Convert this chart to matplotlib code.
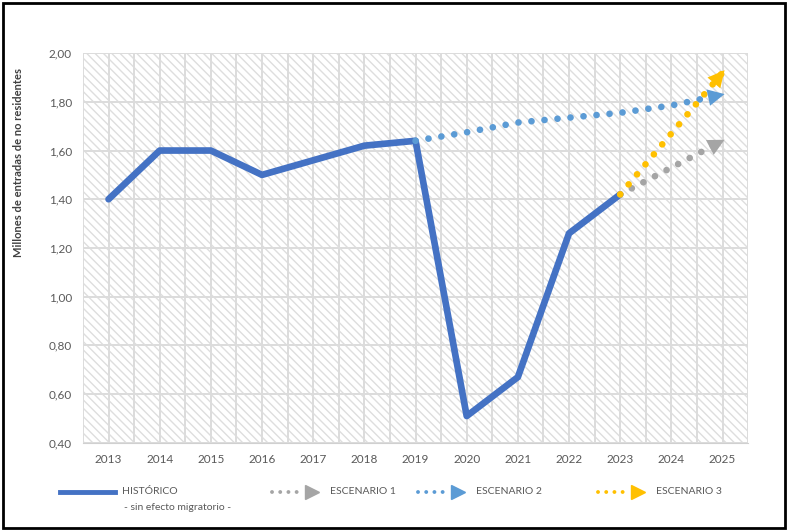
import numpy as np
import matplotlib
matplotlib.use("Agg")
import matplotlib.pyplot as plt
from matplotlib.patches import Rectangle
from matplotlib.lines import Line2D

plt.rcParams['font.family'] = ['Lato', 'DejaVu Sans']
plt.rcParams['hatch.linewidth'] = 1.0

# data
years = ['2013', '2014', '2015', '2016', '2017', '2018', '2019',
         '2020', '2021', '2022', '2023', '2024', '2025']
historico = [1.40, 1.60, 1.60, 1.50, 1.56, 1.62, 1.64, 0.51, 0.67, 1.26, 1.42]
esc1_years = ['2023', '2024', '2025']
esc1 = [1.42, 1.53, 1.64]
esc2_years = ['2019', '2020', '2021', '2022', '2023', '2024', '2025']
esc2 = [1.64, 1.675, 1.715, 1.735, 1.755, 1.785, 1.83]
esc3_years = ['2023', '2024', '2025']
esc3 = [1.42, 1.67, 1.92]

blue = '#4472c4'
grey = '#a5a5a5'
lblue = '#5b9bd5'
gold = '#ffc000'
txt = '#595959'

fig = plt.figure(figsize=(7.9, 5.31), dpi=100)
ax = fig.add_axes([0.105, 0.166, 0.842, 0.734])

x = np.arange(len(years))
idx = {y: i for i, y in enumerate(years)}

ax.set_xlim(-0.5, len(years) - 0.5)
ax.set_ylim(0.4, 2.0)

# hatched background
ax.add_patch(Rectangle((-0.5, 0.4), len(years), 1.6, facecolor='white',
                       edgecolor='#dedede', hatch='\\\\\\\\', lw=0, zorder=0))
for v in np.arange(-0.5, len(years), 0.5):
    ax.axvline(v, color='#dcdcdc', lw=1.4, zorder=0.5)
for v in np.arange(0.4, 2.01, 0.2):
    ax.axhline(v, color='#dcdcdc', lw=1.4, zorder=0.5)

ax.plot(x[:len(historico)], historico, color=blue, lw=4.8,
        solid_capstyle='round', zorder=3)

dot = (0, (0.01, 1.95))


def scenario(yrs, vals, color):
    xs = [idx[y] for y in yrs]
    ax.plot(xs, vals, color=color, lw=4.8, linestyle=dot,
            dash_capstyle='round', zorder=4)
    ax.annotate('', xy=(xs[-1] + 0.04, vals[-1] + (vals[-1] - vals[-2]) * 0.04),
                xytext=(xs[-1] - 0.3, vals[-1] - (vals[-1] - vals[-2]) * 0.3),
                arrowprops=dict(arrowstyle='-|>', color=color, lw=0,
                                mutation_scale=30, shrinkA=0, shrinkB=0),
                zorder=5)


scenario(esc1_years, esc1, grey)
scenario(esc2_years, esc2, lblue)
scenario(esc3_years, esc3, gold)

ax.set_xticks(x)
ax.set_xticklabels(years)
ax.set_yticks(np.arange(0.4, 2.01, 0.2))
ax.set_yticklabels([f'{v:.2f}'.replace('.', ',') for v in np.arange(0.4, 2.01, 0.2)])
ax.tick_params(length=0, labelsize=8.5, colors=txt, pad=8)
for s in ['top', 'right', 'left']:
    ax.spines[s].set_visible(False)
ax.spines['bottom'].set_color('#d0d0d0')
fig.text(19 / 790, 1 - 162 / 531, 'Millones de entradas de no residentes',
         fontsize=8, color='#404040', fontweight='bold', rotation=90,
         ha='center', va='center')

# legend drawn by hand
ly = 1 - 492 / 531
fig.add_artist(Line2D([60 / 790, 115 / 790], [ly, ly], color=blue, lw=3.5))
fig.text(122 / 790, ly, 'HISTÓRICO', fontsize=7.5, color=txt, va='center')
fig.text(124 / 790, 1 - 508 / 531, '- sin efecto migratorio -', fontsize=7.5,
         color=txt, va='center')
for x0, color, label in [(272, grey, 'ESCENARIO 1'), (418, lblue, 'ESCENARIO 2'),
                         (598, gold, 'ESCENARIO 3')]:
    fig.add_artist(Line2D([x0 / 790, (x0 + 32) / 790], [ly, ly], color=color,
                          lw=2.8, linestyle=(0, (0.01, 2.1)),
                          dash_capstyle='round'))
    fig.add_artist(Line2D([(x0 + 40) / 790], [ly], marker='>', color=color,
                          markersize=10, lw=0))
    fig.text((x0 + 58) / 790, ly, label, fontsize=7.5, color=txt, va='center')

fig.add_artist(Rectangle((0.004, 0.006), 0.99, 0.988, transform=fig.transFigure,
                         fill=False, edgecolor='black', lw=2))

fig.savefig('out.png', dpi=100)
